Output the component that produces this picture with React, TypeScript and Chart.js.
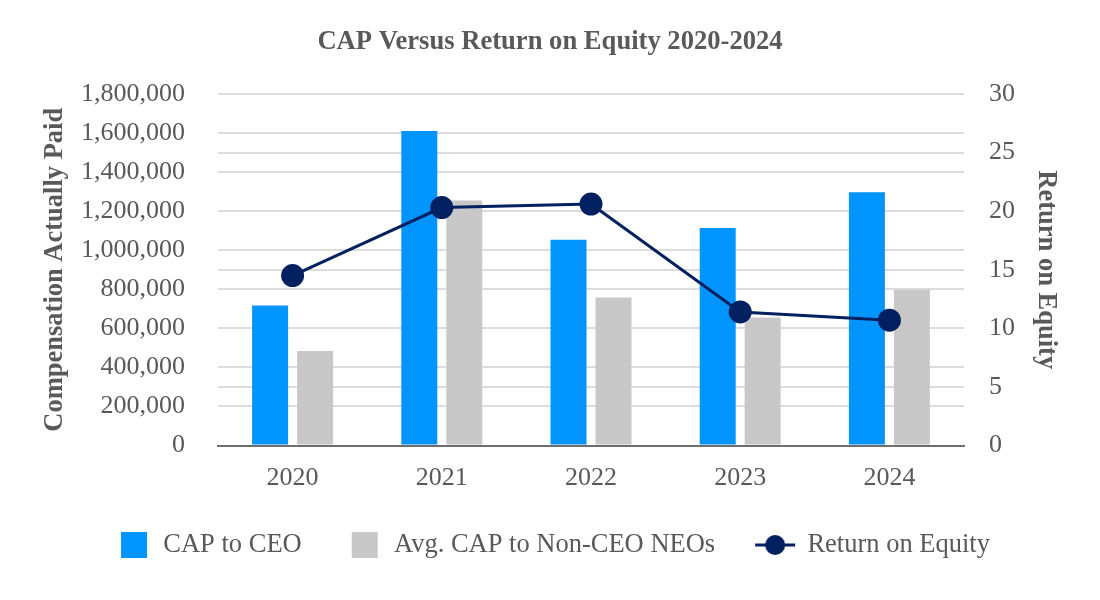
import React, { useEffect, useRef } from 'react';
import { Chart, registerables } from 'chart.js';

Chart.register(...registerables);

const categories = ['2020', '2021', '2022', '2023', '2024'];
const capToCEO = [717000, 1610000, 1054000, 1114000, 1297000];
const avgCapNonCEO = [484000, 1254000, 758000, 656000, 797000];
const returnOnEquity = [14.5, 20.3, 20.6, 11.4, 10.7];
const seriesLabels = ['CAP to CEO', 'Avg. CAP to Non-CEO NEOs', 'Return on Equity'];
const chartTitle = 'CAP Versus Return on Equity 2020-2024';
const leftAxisTitle = 'Compensation Actually Paid';
const rightAxisTitle = 'Return on Equity';

const BLUE = '#0094FF';
const GRAY = '#C8C8C8';
const NAVY = '#002060';
const TEXT = '#595959';
const FONT = "'Liberation Serif', 'Times New Roman', serif";

function boxMarker(color: string): HTMLCanvasElement {
  const c = document.createElement('canvas');
  c.width = 40;
  c.height = 28;
  const ctx = c.getContext('2d')!;
  ctx.fillStyle = color;
  ctx.fillRect(11, 1, 26, 26);
  return c;
}

function lineMarker(color: string): HTMLCanvasElement {
  const c = document.createElement('canvas');
  c.width = 46;
  c.height = 28;
  const ctx = c.getContext('2d')!;
  ctx.strokeStyle = color;
  ctx.lineWidth = 3;
  ctx.beginPath();
  ctx.moveTo(4, 14);
  ctx.lineTo(44, 14);
  ctx.stroke();
  ctx.fillStyle = color;
  ctx.beginPath();
  ctx.arc(24, 14, 10, 0, Math.PI * 2);
  ctx.fill();
  return c;
}

export default function App() {
  const ref = useRef<HTMLCanvasElement | null>(null);

  useEffect(() => {
    if (!ref.current) return;
    const markers = [boxMarker(BLUE), boxMarker(GRAY), lineMarker(NAVY)];
    const chart = new Chart(ref.current, {
      type: 'bar',
      data: {
        labels: categories,
        datasets: [
          {
            type: 'bar',
            label: seriesLabels[0],
            data: capToCEO,
            backgroundColor: BLUE,
            yAxisID: 'y',
            order: 2,
            categoryPercentage: 0.603,
            barPercentage: 0.8,
          },
          {
            type: 'bar',
            label: seriesLabels[1],
            data: avgCapNonCEO,
            backgroundColor: GRAY,
            yAxisID: 'y',
            order: 2,
            categoryPercentage: 0.603,
            barPercentage: 0.8,
          },
          {
            type: 'line',
            label: seriesLabels[2],
            data: returnOnEquity,
            borderColor: NAVY,
            backgroundColor: NAVY,
            borderWidth: 3,
            pointRadius: 11.5,
            pointHoverRadius: 11.5,
            pointBorderWidth: 0,
            pointBackgroundColor: NAVY,
            yAxisID: 'y1',
            order: 0,
            tension: 0,
          } as any,
        ],
      },
      options: {
        animation: false,
        responsive: false,
        maintainAspectRatio: false,
        layout: { padding: { top: 0, left: 8, right: 8, bottom: 31.75 } },
        plugins: {
          tooltip: { enabled: false },
          title: {
            display: true,
            text: chartTitle,
            color: TEXT,
            font: { family: FONT, size: 26.6, weight: 'bold' },
            padding: { top: 26, bottom: 36 },
          },
          legend: {
            position: 'bottom',
            labels: {
              color: TEXT,
              font: { family: FONT, size: 26.5 },
              usePointStyle: true,
              pointStyleWidth: 40,
              boxHeight: 26,
              padding: 39,
              generateLabels: (ch: any) =>
                ch.data.datasets.map((ds: any, i: number) => ({
                  text: ds.label,
                  pointStyle: markers[i],
                  fillStyle: 'transparent',
                  strokeStyle: 'transparent',
                  lineWidth: 0,
                  fontColor: TEXT,
                  hidden: false,
                  datasetIndex: i,
                })),
            },
          },
        },
        scales: {
          x: {
            grid: { display: false },
            border: { display: true, color: '#6E6E6E', width: 2 },
            ticks: { color: TEXT, font: { family: FONT, size: 26 }, padding: 9 },
            afterFit: (s: any) => {
              s.height -= 10;
            },
          },
          y: {
            position: 'left',
            min: 0,
            max: 1800000,
            grid: { color: '#DCDCDC', lineWidth: 2, drawTicks: false },
            border: { display: false },
            ticks: {
              stepSize: 200000,
              color: TEXT,
              font: { family: FONT, size: 26 },
              padding: 33,
              callback: (v: any) => Number(v).toLocaleString('en-US'),
            },
            title: {
              display: true,
              text: leftAxisTitle,
              color: TEXT,
              font: { family: FONT, size: 26.5, weight: 'bold' },
              padding: { top: 31, bottom: 10 },
            },
            afterFit: (s: any) => {
              s.width = 210;
            },
          },
          y1: {
            position: 'right',
            min: 0,
            max: 30,
            grid: { color: '#DCDCDC', lineWidth: 2, drawTicks: false },
            border: { display: false },
            ticks: {
              stepSize: 5,
              color: TEXT,
              font: { family: FONT, size: 26 },
              padding: 25,
            },
            title: {
              display: true,
              text: rightAxisTitle,
              color: TEXT,
              font: { family: FONT, size: 26.5, weight: 'bold' },
              padding: { top: 30, bottom: 10 },
            },
            afterFit: (s: any) => {
              s.width = 128;
            },
          },
        },
      },
    });
    return () => chart.destroy();
  }, []);

  return (
    <div style={{ position: 'fixed', left: 0, top: 0, width: 1100, height: 600, background: '#fff' }}>
      <canvas ref={ref} width={1100} height={600} />
    </div>
  );
}
